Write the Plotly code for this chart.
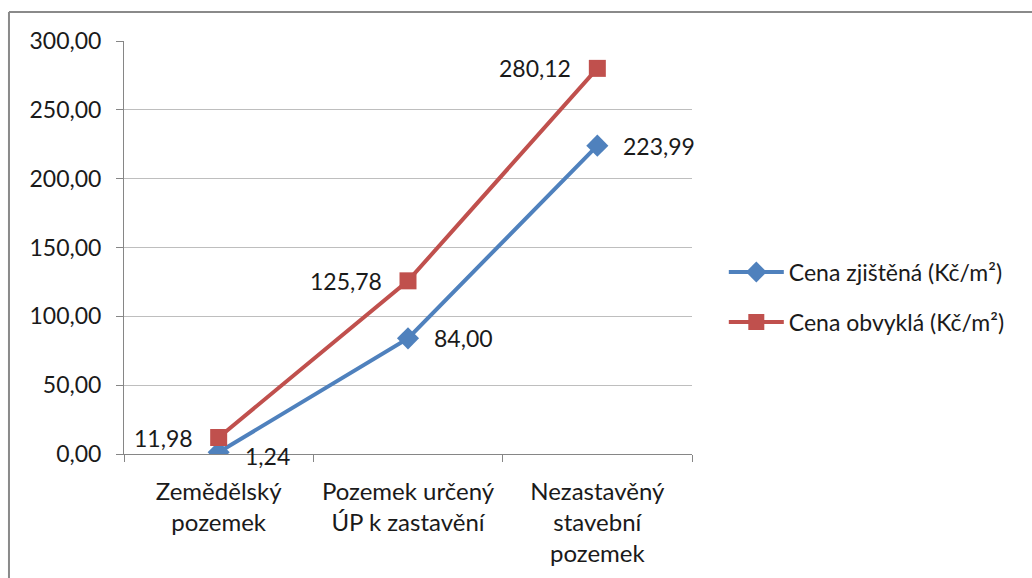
import plotly.graph_objects as go

categories = ["Zemědělský<br>pozemek", "Pozemek určený<br>ÚP k zastavění", "Nezastavěný<br>stavební<br>pozemek"]
cena_zjistena = [1.24, 84.00, 223.99]
cena_obvykla = [11.98, 125.78, 280.12]
y_ticks = [0, 50, 100, 150, 200, 250, 300]

BLUE = "#4F81BD"
RED = "#C0504D"
FONT = "Lato"
TXT = "#1a1a1a"

fig = go.Figure()
fig.add_trace(go.Scatter(
    x=categories, y=cena_zjistena, mode="lines+markers", name="Cena zjištěná (Kč/m²)",
    line=dict(color=BLUE, width=4), marker=dict(symbol="diamond", size=17, color=BLUE),
    legendgroup="a",
))
fig.add_trace(go.Scatter(
    x=categories, y=cena_obvykla, mode="lines+markers", name="Cena obvyklá (Kč/m²)",
    line=dict(color=RED, width=4), marker=dict(symbol="square", size=17, color=RED),
    legendgroup="b",
))

def fmt(v):
    return f"{v:.2f}".replace(".", ",")

annotations = []
for i, (c, v) in enumerate(zip(categories, cena_zjistena)):
    annotations.append(dict(x=c, y=v, text=fmt(v), showarrow=False, xanchor="left",
                            xshift=24, yshift=-4 if i == 0 else 0,
                            font=dict(size=23, color=TXT, family=FONT)))
for c, v in zip(categories, cena_obvykla):
    annotations.append(dict(x=c, y=v, text=fmt(v), showarrow=False, xanchor="right",
                            xshift=-24, font=dict(size=23, color=TXT, family=FONT)))

# outer chart frame (left and top edges)
shapes = [
    dict(type="line", xref="paper", yref="paper", x0=-0.2025, x1=-0.2025, y0=1.07, y1=-0.4,
         line=dict(color="#8a8a8a", width=2)),
    dict(type="line", xref="paper", yref="paper", x0=-0.2025, x1=1.7, y0=1.07, y1=1.07,
         line=dict(color="#8a8a8a", width=2)),
]

fig.update_layout(
    width=1032, height=578,
    margin=dict(l=124, r=340, t=41, b=124),
    paper_bgcolor="white", plot_bgcolor="white",
    separators=", ",
    font=dict(family=FONT, size=23, color=TXT),
    showlegend=True,
    legend=dict(x=1.056, y=0.38, xanchor="left", yanchor="middle",
                font=dict(size=23, family=FONT, color=TXT), tracegroupgap=17,
                traceorder="grouped", itemwidth=55),
    annotations=annotations,
    shapes=shapes,
    xaxis=dict(
        range=[-0.5, 2.5], showgrid=False, showline=True, linecolor="#868686", linewidth=1,
        ticks="outside", ticklen=7, tickcolor="#868686", tickson="boundaries",
        tickfont=dict(size=24, family=FONT, color=TXT), ticklabelstandoff=16,
    ),
    yaxis=dict(
        range=[0, 300], tickvals=y_ticks, tickformat=".2f",
        showgrid=True, gridcolor="#BEBEBE", gridwidth=1,
        showline=True, linecolor="#868686", linewidth=1,
        ticks="outside", ticklen=7, tickcolor="#868686",
        tickfont=dict(size=23, family=FONT, color=TXT), zeroline=False,
        ticklabelstandoff=10,
    ),
)

fig.write_html("out.html")
